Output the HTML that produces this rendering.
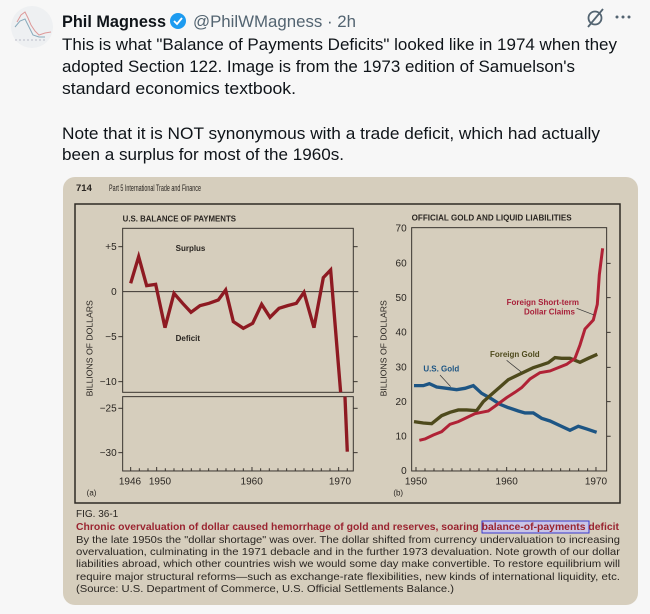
<!DOCTYPE html>
<html><head><meta charset="utf-8"><style>
html,body{margin:0;padding:0;background:#f7f7f7;}
svg{display:block}
</style></head><body>
<svg width="650" height="614" viewBox="0 0 650 614" xmlns="http://www.w3.org/2000/svg" font-family="Liberation Sans, sans-serif">
<rect width="650" height="614" fill="#f7f7f7"/>
<!-- avatar -->
<circle cx="32" cy="27" r="21" fill="#eef0f2"/>
<polyline points="17,22 21,15 25,12 28,18 31,25 35,31 39,35 45,33 51,32" fill="none" stroke="#d99" stroke-width="1"/>
<polyline points="15,27 20,21 25,19 29,27 33,35 39,37 45,37" fill="none" stroke="#8ab" stroke-width="1"/>
<line x1="15" y1="40" x2="47" y2="40" stroke="#aab" stroke-width="0.8" stroke-dasharray="2,2"/>
<!-- header -->
<text x="62" y="27" font-size="17" font-weight="bold" fill="#0f1419" textLength="104" lengthAdjust="spacingAndGlyphs">Phil Magness</text>
<circle cx="178" cy="21" r="8" fill="#1d9bf0"/>
<polyline points="174,21 177,24 182,18" fill="none" stroke="#fff" stroke-width="1.8"/>
<text x="193" y="27" font-size="17" fill="#536471" textLength="163" lengthAdjust="spacingAndGlyphs">@PhilWMagness · 2h</text>
<circle cx="595" cy="18" r="6.5" fill="none" stroke="#536471" stroke-width="1.8"/>
<line x1="588" y1="27" x2="603" y2="9" stroke="#536471" stroke-width="1.8"/>
<circle cx="617" cy="17" r="1.5" fill="#536471"/><circle cx="623" cy="17" r="1.5" fill="#536471"/><circle cx="629" cy="17" r="1.5" fill="#536471"/>
<g font-size="17" fill="#0f1419">
<text x="62" y="50" textLength="555" lengthAdjust="spacingAndGlyphs">This is what "Balance of Payments Deficits" looked like in 1974 when they</text>
<text x="62" y="72" textLength="513" lengthAdjust="spacingAndGlyphs">adopted Section 122. Image is from the 1973 edition of Samuelson's</text>
<text x="62" y="94" textLength="234" lengthAdjust="spacingAndGlyphs">standard economics textbook.</text>
<text x="62" y="139" textLength="538" lengthAdjust="spacingAndGlyphs">Note that it is NOT synonymous with a trade deficit, which had actually</text>
<text x="62" y="160" textLength="282" lengthAdjust="spacingAndGlyphs">been a surplus for most of the 1960s.</text>
</g>
<!-- card -->
<rect x="63" y="177" width="575" height="428" rx="12" fill="#d6cebd"/>
<text x="76" y="191" font-size="9.5" font-weight="bold" fill="#2a2622">714</text>
<text x="109" y="191" font-size="9" fill="#2a2622" textLength="92" lengthAdjust="spacingAndGlyphs">Part 5  International Trade and Finance</text>
<rect x="75" y="204" width="545" height="299" fill="none" stroke="#2e2a25" stroke-width="1.5"/>

<!-- left panel -->
<g transform="translate(60,175) scale(0.3333)" fill="#2a2622">
<text x="188" y="140" font-size="26" font-weight="bold" textLength="340" lengthAdjust="spacingAndGlyphs">U.S. BALANCE OF PAYMENTS</text>
<rect x="188" y="160" width="692" height="492" fill="none" stroke="#3a3530" stroke-width="3"/>
<rect x="188" y="665" width="692" height="223" fill="none" stroke="#3a3530" stroke-width="3"/>
<line x1="188" y1="350" x2="895" y2="350" stroke="#3a3530" stroke-width="3"/>
<g stroke="#3a3530" stroke-width="3">
<line x1="175" y1="215" x2="188" y2="215"/><line x1="175" y1="485" x2="188" y2="485"/><line x1="175" y1="620" x2="188" y2="620"/>
<line x1="175" y1="700" x2="188" y2="700"/><line x1="175" y1="833" x2="188" y2="833"/>
<line x1="880" y1="215" x2="893" y2="215"/><line x1="880" y1="485" x2="893" y2="485"/><line x1="880" y1="620" x2="893" y2="620"/>
<line x1="880" y1="700" x2="893" y2="700"/><line x1="880" y1="833" x2="893" y2="833"/>
<path d="M212 888v-12M238 888v-8M264 888v-8M290 888v-12M316 888v-8M342 888v-8M368 888v-8M394 888v-8M420 888v-8M446 888v-8M472 888v-8M498 888v-8M524 888v-8M550 888v-8M576 888v-12M602 888v-8M628 888v-8M654 888v-8M680 888v-8M706 888v-8M732 888v-8M758 888v-8M784 888v-8M810 888v-8M836 888v-12M862 888v-8"/>
</g>
<g font-size="30" text-anchor="end">
<text x="170" y="225">+5</text><text x="170" y="360">0</text><text x="170" y="495">−5</text><text x="170" y="630">−10</text>
<text x="170" y="710">−25</text><text x="170" y="843">−30</text>
</g>
<g font-size="30" text-anchor="middle">
<text x="210" y="928">1946</text><text x="300" y="928">1950</text><text x="575" y="928">1960</text><text x="840" y="928">1970</text>
</g>
<text x="80" y="962" font-size="24">(a)</text>
<text x="347" y="228" font-size="24" font-weight="bold">Surplus</text>
<text x="347" y="498" font-size="24" font-weight="bold">Deficit</text>
<text transform="translate(98,520) rotate(-90)" font-size="26" text-anchor="middle">BILLIONS OF DOLLARS</text>
<polyline fill="none" stroke="#8e1a22" stroke-width="10" stroke-linejoin="miter" points="212,325 236,245 260,332 287,328 315,458 342,355 368,385 393,412 420,392 447,385 475,375 497,345 520,440 550,460 578,445 605,388 630,427 657,400 683,392 709,385 732,352 762,458 790,308 812,285 842,652"/>
<polyline fill="none" stroke="#8e1a22" stroke-width="10" points="855,665 862,830"/>
</g>

<!-- right panel -->
<g transform="translate(360,175) scale(0.3333)" fill="#2a2622">
<text x="155" y="137" font-size="26" font-weight="bold" textLength="480" lengthAdjust="spacingAndGlyphs">OFFICIAL GOLD AND LIQUID LIABILITIES</text>
<rect x="155" y="158" width="585" height="730" fill="none" stroke="#3a3530" stroke-width="3"/>
<g stroke="#3a3530" stroke-width="3">
<path d="M740 265h12M740 368h12M740 472h12M740 577h12M740 680h12M740 784h12"/>
<path d="M168 888v-12M195 888v-8M222 888v-8M249 888v-8M276 888v-8M303 888v-8M330 888v-8M357 888v-8M384 888v-8M411 888v-8M440 888v-12M467 888v-8M494 888v-8M521 888v-8M548 888v-8M575 888v-8M602 888v-8M629 888v-8M656 888v-8M683 888v-8M708 888v-12"/>
</g>
<g font-size="30" text-anchor="end">
<text x="140" y="170">70</text><text x="140" y="275">60</text><text x="140" y="378">50</text><text x="140" y="482">40</text>
<text x="140" y="587">30</text><text x="140" y="690">20</text><text x="140" y="794">10</text><text x="140" y="897">0</text>
</g>
<g font-size="30" text-anchor="middle">
<text x="168" y="928">1950</text><text x="440" y="928">1960</text><text x="708" y="928">1970</text>
</g>
<text x="100" y="962" font-size="24">(b)</text>
<text transform="translate(80,520) rotate(-90)" font-size="26" text-anchor="middle">BILLIONS OF DOLLARS</text>
<polyline fill="none" stroke="#1d5584" stroke-width="10" points="162,632 190,632 208,626 230,636 260,640 290,644 315,640 340,632 365,655 395,672 420,688 445,698 475,708 495,714 520,714 545,730 570,738 600,752 630,766 655,754 680,762 710,772"/>
<polyline fill="none" stroke="#4e4a1c" stroke-width="10" points="162,740 190,744 215,746 245,722 270,712 295,705 320,705 350,707 370,680 395,658 420,636 445,614 470,602 495,590 520,578 545,570 565,563 585,548 605,550 630,550 660,562 685,550 712,538"/>
<polyline fill="none" stroke="#b02236" stroke-width="9" points="178,796 195,792 220,780 245,770 270,748 295,740 320,728 345,716 365,712 385,708 410,690 440,668 465,652 485,638 510,612 540,593 570,588 595,578 620,568 645,550 660,510 675,462 700,435 712,388 718,300 728,220"/>
<text x="190" y="590" font-size="24" font-weight="bold" fill="#1d5584">U.S. Gold</text>
<line x1="240" y1="600" x2="272" y2="635" stroke="#333" stroke-width="2"/>
<text x="390" y="546" font-size="24" font-weight="bold" fill="#4e4a1c">Foreign Gold</text>
<line x1="440" y1="556" x2="485" y2="592" stroke="#333" stroke-width="2"/>
<text x="440" y="390" font-size="24" font-weight="bold" fill="#a8203a">Foreign Short-term</text>
<text x="645" y="418" font-size="24" font-weight="bold" fill="#a8203a" text-anchor="end">Dollar Claims</text>
<line x1="650" y1="400" x2="702" y2="420" stroke="#333" stroke-width="2"/>
</g>

<!-- caption -->
<g fill="#2a2622">
<text x="76" y="517" font-size="10">FIG. 36-1</text>
<rect x="482" y="521" width="107" height="12" fill="#c9c4e6" stroke="#3a3ad0" stroke-width="1"/>
<text x="76" y="530" font-size="10.5" font-weight="bold" fill="#9a2430" textLength="543" lengthAdjust="spacingAndGlyphs">Chronic overvaluation of dollar caused hemorrhage of gold and reserves, soaring balance-of-payments deficit</text>
<g font-size="10.5">
<text x="76" y="543" textLength="544" lengthAdjust="spacingAndGlyphs">By the late 1950s the "dollar shortage" was over. The dollar shifted from currency undervaluation to increasing</text>
<text x="76" y="555" textLength="544" lengthAdjust="spacingAndGlyphs">overvaluation, culminating in the 1971 debacle and in the further 1973 devaluation. Note growth of our dollar</text>
<text x="76" y="567" textLength="544" lengthAdjust="spacingAndGlyphs">liabilities abroad, which other countries wish we would some day make convertible. To restore equilibrium will</text>
<text x="76" y="580" textLength="544" lengthAdjust="spacingAndGlyphs">require major structural reforms—such as exchange-rate flexibilities, new kinds of international liquidity, etc.</text>
<text x="76" y="592" textLength="378" lengthAdjust="spacingAndGlyphs">(Source: U.S. Department of Commerce, U.S. Official Settlements Balance.)</text>
</g>
</g>
</svg>
</body></html>
